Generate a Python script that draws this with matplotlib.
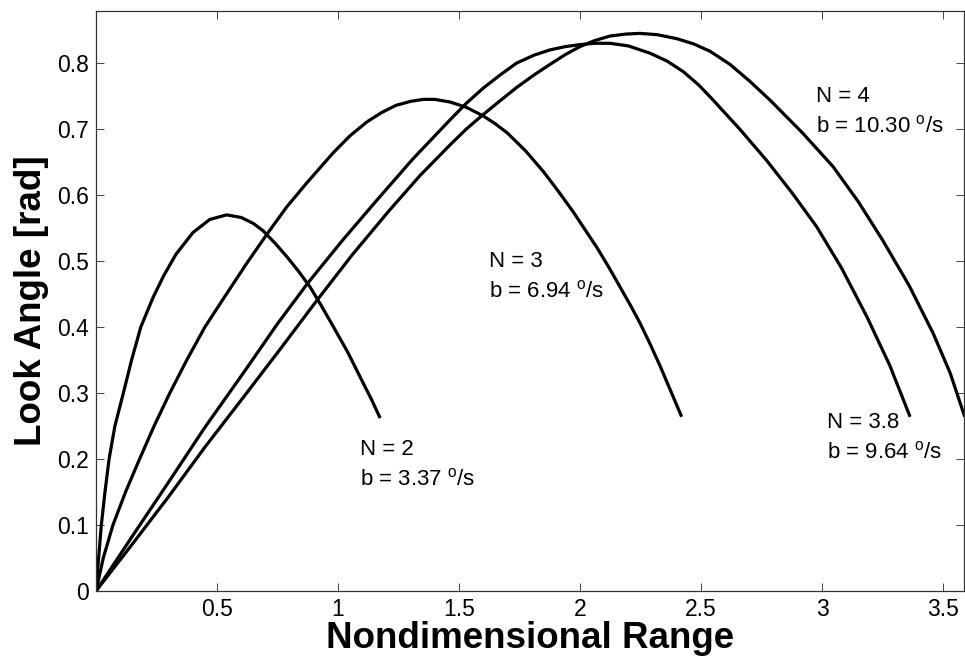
import matplotlib
matplotlib.use("Agg")
import matplotlib.pyplot as plt

plt.rcParams["font.family"] = ["Liberation Sans", "DejaVu Sans"]
plt.rcParams["mathtext.fontset"] = "custom"
plt.rcParams["mathtext.rm"] = "Liberation Sans"

# look angle vs nondimensional range, one trajectory per navigation gain
range_n2 = [0, 0.006, 0.013, 0.022, 0.037, 0.054, 0.078, 0.113, 0.147, 0.185,
            0.236, 0.28, 0.33, 0.40, 0.47, 0.54, 0.60, 0.65, 0.69, 0.74, 0.79,
            0.84, 0.884, 0.93, 0.98, 1.04, 1.10, 1.14, 1.174]
angle_n2 = [0, 0.03, 0.06, 0.1, 0.15, 0.2, 0.25, 0.3, 0.35, 0.4,
            0.445, 0.478, 0.51, 0.543, 0.563, 0.57, 0.566, 0.557, 0.546, 0.527, 0.506,
            0.483, 0.461, 0.433, 0.401, 0.362, 0.318, 0.289, 0.262]

range_n3 = [0, 0.03, 0.07, 0.122, 0.18, 0.24, 0.305, 0.375, 0.45, 0.53, 0.62,
            0.705, 0.788, 0.87, 0.98, 1.05, 1.12, 1.18, 1.24, 1.30, 1.352, 1.40,
            1.463, 1.53, 1.60, 1.65, 1.70, 1.775, 1.85, 1.91, 1.973, 2.02, 2.069,
            2.12, 2.165, 2.21, 2.248, 2.29, 2.331, 2.375, 2.42]
angle_n3 = [0, 0.05, 0.1, 0.15, 0.2, 0.25, 0.3, 0.35, 0.4, 0.445, 0.495,
            0.54, 0.582, 0.618, 0.664, 0.69, 0.711, 0.725, 0.736, 0.742, 0.745, 0.745,
            0.741, 0.733, 0.72, 0.708, 0.694, 0.667, 0.635, 0.606, 0.574, 0.548, 0.521,
            0.49, 0.461, 0.432, 0.406, 0.374, 0.341, 0.303, 0.264]

range_n38 = [0, 0.15, 0.3, 0.45, 0.612, 0.75, 0.876, 1.02, 1.16, 1.31, 1.463,
             1.53, 1.60, 1.67, 1.738, 1.81, 1.876, 1.94, 2.0, 2.06, 2.124, 2.2,
             2.289, 2.36, 2.427, 2.49, 2.545, 2.66, 2.77, 2.875, 2.978, 3.08,
             3.185, 3.28, 3.364]
angle_n38 = [0, 0.083, 0.165, 0.248, 0.332, 0.405, 0.467, 0.532, 0.592, 0.655, 0.714,
             0.739, 0.762, 0.782, 0.80, 0.812, 0.82, 0.825, 0.828, 0.83, 0.83, 0.826,
             0.815, 0.803, 0.787, 0.767, 0.746, 0.70, 0.653, 0.604, 0.552, 0.49,
             0.416, 0.342, 0.264]

range_n4 = [0, 0.15, 0.3, 0.45, 0.612, 0.76, 0.912, 1.06, 1.215, 1.34, 1.463,
            1.53, 1.60, 1.67, 1.738, 1.81, 1.876, 1.94, 2.0, 2.06, 2.124, 2.19,
            2.248, 2.32, 2.40, 2.47, 2.537, 2.62, 2.70, 2.785, 2.92, 3.046, 3.15,
            3.25, 3.36, 3.46, 3.53, 3.59]
angle_n4 = [0, 0.071, 0.143, 0.218, 0.295, 0.366, 0.44, 0.51, 0.578, 0.63, 0.676,
            0.70, 0.722, 0.743, 0.763, 0.782, 0.798, 0.813, 0.825, 0.834, 0.841, 0.844,
            0.845, 0.843, 0.837, 0.829, 0.818, 0.798, 0.773, 0.744, 0.694, 0.643, 0.59,
            0.532, 0.463, 0.39, 0.33, 0.264]

gains = ["2", "3", "3.8", "4"]
rates = ["3.37", "6.94", "9.64", "10.30"]
x_ticks = [0.5, 1, 1.5, 2, 2.5, 3, 3.5]
y_ticks = [0, 0.1, 0.2, 0.3, 0.4, 0.5, 0.6, 0.7, 0.8]

# where each N/b label sits (left edge, baseline of first line)
label_pos = [(1.091, 0.206), (1.624, 0.491), (3.02, 0.247), (2.975, 0.741)]

fig = plt.figure(figsize=(9.65, 6.68), dpi=100)
ax = fig.add_axes([0.0995, 0.1153, 0.8995, 0.8683])

for xs, ys in [(range_n2, angle_n2), (range_n3, angle_n3),
               (range_n38, angle_n38), (range_n4, angle_n4)]:
    ax.plot(xs, ys, color="black", lw=2.3, solid_capstyle="butt",
            solid_joinstyle="round")

for g, b, (tx, ty) in zip(gains, rates, label_pos):
    ax.text(tx, ty, f"N = {g}", fontsize=16, va="baseline", ha="left")
    ax.text(tx, ty - 0.046, f"b = {b} $^{{\\mathrm{{o}}}}$/s", fontsize=16,
            va="baseline", ha="left")

ax.set_xlim(0, 3.587)
ax.set_ylim(0, 0.879)
ax.set_xticks(x_ticks)
ax.set_xticklabels([f"{t:g}" for t in x_ticks])
ax.set_yticks(y_ticks)
ax.set_yticklabels([f"{t:g}" for t in y_ticks])
ax.tick_params(direction="in", length=6, width=0.7, labelsize=16.5, pad=5,
               top=True, right=True, color="#444444")
for sp in ax.spines.values():
    sp.set_linewidth(0.9)
    sp.set_color("#333333")

ax.set_xlabel("Nondimensional Range", fontsize=26.5, fontweight="bold", labelpad=0)
ax.set_ylabel("Look Angle [rad]", fontsize=26.5, fontweight="bold", labelpad=6)

fig.savefig("out.png", dpi=100)
